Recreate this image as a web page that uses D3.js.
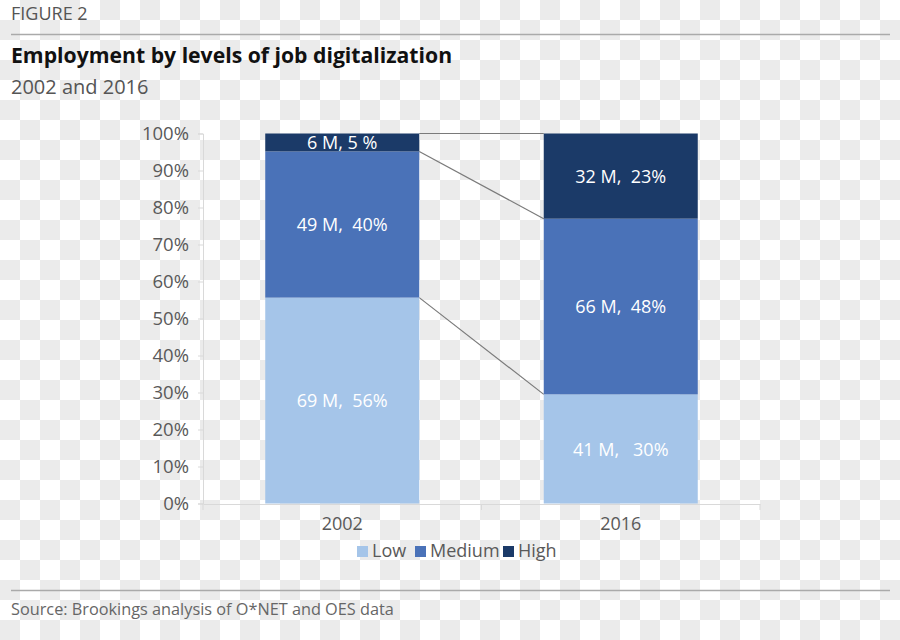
<!DOCTYPE html>
<html><head><meta charset="utf-8">
<script src="https://cdn.jsdelivr.net/npm/d3@7"></script>
<style>
html,body{margin:0;padding:0;}
svg{display:block;font-family:"Open Sans", sans-serif;}
</style></head>
<body><svg id="chart" width="900" height="640"></svg>
<script>
const years = ["2002", "2016"];
const levels = ["Low", "Medium", "High"];
const lowM = [69, 41];
const mediumM = [49, 66];
const highM = [6, 32];
const lowPct = [56, 30];
const mediumPct = [40, 48];
const highPct = [5, 23];
const yTicks = [0, 0.1, 0.2, 0.3, 0.4, 0.5, 0.6, 0.7, 0.8, 0.9, 1.0];
const colors = ["#a5c5e9", "#4a72b8", "#1b3a68"];
const labelTexts = [
  ["69 M,\u00a0\u00a056%", "49 M,\u00a0\u00a040%", "6 M, 5 %"],
  ["41 M,\u00a0\u00a0\u00a030%", "66 M,\u00a0\u00a048%", "32 M,\u00a0\u00a023%"]
];

const svg = d3.select("#chart");

// checkerboard background
const defs = svg.append("defs");
const pat = defs.append("pattern").attr("id", "chk").attr("width", 40).attr("height", 40)
  .attr("patternUnits", "userSpaceOnUse");
pat.append("rect").attr("width", 40).attr("height", 40).attr("fill", "#ffffff");
pat.append("rect").attr("x", 20).attr("y", 0).attr("width", 20).attr("height", 20).attr("fill", "#ebebeb");
pat.append("rect").attr("x", 0).attr("y", 20).attr("width", 20).attr("height", 20).attr("fill", "#ebebeb");
svg.append("rect").attr("width", 900).attr("height", 640).attr("fill", "url(#chk)");

// header
svg.append("text").attr("x", 11).attr("y", 20).attr("font-size", 18)
  .attr("fill", "#555").text("FIGURE 2");
svg.append("line").attr("x1", 11).attr("x2", 890).attr("y1", 34.5).attr("y2", 34.5)
  .attr("stroke", "#aaa").attr("stroke-width", 1.5);
svg.append("text").attr("x", 11).attr("y", 63).attr("font-size", 21.2).attr("font-weight", "bold")
  .attr("fill", "#111").text("Employment by levels of job digitalization");
svg.append("text").attr("x", 11).attr("y", 94).attr("font-size", 20).attr("fill", "#555")
  .text("2002 and 2016");

// data stacking
const rows = years.map((y, i) => {
  const tot = lowM[i] + mediumM[i] + highM[i];
  return {year: y, Low: lowM[i] / tot, Medium: mediumM[i] / tot, High: highM[i] / tot};
});
const stack = d3.stack().keys(levels)(rows);

const x = d3.scaleBand().domain(years).range([203, 760]).padding(0);
const y = d3.scaleLinear().domain([0, 1]).range([503.5, 133.5]);
const barW = x.bandwidth() * 0.553;
const barX = d => x(d) + (x.bandwidth() - barW) / 2;

// y axis
const yAxis = svg.append("g").attr("transform", "translate(203,0)")
  .call(d3.axisLeft(y).tickValues(yTicks).tickFormat(d3.format(".0%")).tickSize(5).tickPadding(9));
yAxis.select(".domain").attr("stroke", "#d9d9d9");
yAxis.selectAll(".tick line").attr("stroke", "#d9d9d9");
yAxis.selectAll(".tick text").attr("font-size", 18.5).attr("fill", "#595959")
  .attr("font-family", "'Open Sans', sans-serif");

// x axis
const xAxis = svg.append("g").attr("transform", "translate(0,504)")
  .call(d3.axisBottom(x).tickSize(0).tickPadding(13));
xAxis.select(".domain").attr("stroke", "#d9d9d9");
xAxis.selectAll(".tick text").attr("font-size", 18).attr("fill", "#595959")
  .attr("font-family", "'Open Sans', sans-serif");
// category separators
const seps = [x.range()[0], x("2016"), x.range()[1]];
svg.append("g").selectAll("line").data(seps).join("line")
  .attr("x1", d => d).attr("x2", d => d).attr("y1", 504).attr("y2", 510)
  .attr("stroke", "#d9d9d9");

// connector lines
const conn = svg.append("g");
stack.forEach(s => {
  conn.append("line")
    .attr("x1", barX("2002") + barW).attr("y1", y(s[0][1]))
    .attr("x2", barX("2016")).attr("y2", y(s[1][1]))
    .attr("stroke", "#7a7a7a").attr("stroke-width", 1.2);
});

// bars
stack.forEach((s, k) => {
  svg.append("g").selectAll("rect").data(s).join("rect")
    .attr("x", d => barX(d.data.year)).attr("width", barW)
    .attr("y", d => y(d[1])).attr("height", d => y(d[0]) - y(d[1]))
    .attr("fill", colors[k]);
});

// labels
stack.forEach((s, k) => {
  svg.append("g").selectAll("text").data(s).join("text")
    .attr("x", d => barX(d.data.year) + barW / 2)
    .attr("y", d => (y(d[0]) + y(d[1])) / 2 + 2)
    .attr("text-anchor", "middle").attr("dominant-baseline", "middle")
    .attr("font-size", 18).attr("fill", "#ffffff")
    .text((d, i) => labelTexts[i][k]);
});

// legend
const legend = svg.append("g").attr("transform", "translate(357,552)");
const legX = [0, 58, 146];
levels.forEach((l, i) => {
  legend.append("rect").attr("x", legX[i]).attr("y", -6).attr("width", 11).attr("height", 11)
    .attr("fill", colors[i]);
  legend.append("text").attr("x", legX[i] + 15).attr("y", 0).attr("dominant-baseline", "middle")
    .attr("font-size", 18).attr("fill", "#595959").text(l);
});

// footer
svg.append("line").attr("x1", 11).attr("x2", 890).attr("y1", 590.5).attr("y2", 590.5)
  .attr("stroke", "#aaa").attr("stroke-width", 1.5);
svg.append("text").attr("x", 11).attr("y", 615).attr("font-size", 16.3).attr("fill", "#666")
  .text("Source: Brookings analysis of O*NET and OES data");
</script></body></html>
